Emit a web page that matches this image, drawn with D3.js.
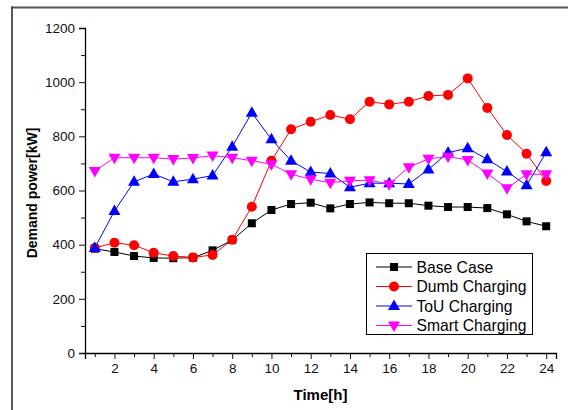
<!DOCTYPE html>
<html>
<head>
<meta charset="utf-8">
<script src="https://cdn.jsdelivr.net/npm/d3@7"></script>
<style>
  html, body { margin: 0; padding: 0; background: #fff; }
  svg { display: block; font-family: Arial, "Liberation Sans", sans-serif; }
</style>
</head>
<body>
<svg id="chart" width="568" height="410"></svg>
<script>
// Hourly demand (kW) for each charging scenario
const hours = d3.range(1, 25);
const baseCase   = [385, 373, 358, 351, 350, 352, 379, 417, 479, 528, 550, 555, 534, 550, 556, 553, 553, 544, 539, 539, 535, 512, 486, 468];
const dumbCharge = [388, 407, 398, 370, 358, 353, 362, 418, 540, 710, 826, 854, 879, 863, 928, 918, 928, 949, 953, 1014, 905, 805, 736, 635];
const touCharge  = [388, 524, 632, 661, 632, 642, 655, 762, 887, 789, 710, 668, 663, 612, 627, 627, 624, 678, 740, 756, 715, 670, 619, 741];
const smartCharge= [672, 721, 721, 721, 716, 720, 729, 721, 710, 697, 660, 642, 629, 636, 638, 623, 686, 717, 725, 713, 663, 608, 660, 660];

const seriesNames = ["Base Case", "Dumb Charging", "ToU Charging", "Smart Charging"];
const xTicks = [2, 4, 6, 8, 10, 12, 14, 16, 18, 20, 22, 24];
const yTicks = [0, 200, 400, 600, 800, 1000, 1200];

const series = [
  { name: seriesNames[0], values: baseCase,    color: "#000000", symbol: "square" },
  { name: seriesNames[1], values: dumbCharge,  color: "#ff0000", symbol: "circle" },
  { name: seriesNames[2], values: touCharge,   color: "#0000ff", symbol: "up" },
  { name: seriesNames[3], values: smartCharge, color: "#ff00ff", symbol: "down" }
];

const svg = d3.select("#chart");

// Outer frame (top and left edges)
svg.append("line").attr("x1", 11.5).attr("x2", 568).attr("y1", 7.5).attr("y2", 7.5)
  .attr("stroke", "#555").attr("stroke-width", 2);
svg.append("line").attr("x1", 12).attr("x2", 12).attr("y1", 6.5).attr("y2", 410)
  .attr("stroke", "#222").attr("stroke-width", 1.5);

const x = d3.scaleLinear().domain([0.5, 24.5]).range([85, 556]);
const y = d3.scaleLinear().domain([0, 1200]).range([353, 28]);

// Axes
const xAxis = svg.append("g").attr("transform", `translate(0,${y(0)})`);
xAxis.call(d3.axisBottom(x).tickValues(hours.filter(h => h % 2 === 1)).tickSize(4).tickFormat(""));
xAxis.call(g => g.select(".domain").remove());
const xMajor = svg.append("g").attr("transform", `translate(0,${y(0)})`)
  .call(d3.axisBottom(x).tickValues(xTicks).tickSize(6).tickPadding(4).tickFormat(d3.format("d")));
xMajor.select(".domain").attr("stroke-width", 1.3);

const yMinor = svg.append("g").attr("transform", `translate(${x(0.5)},0)`)
  .call(d3.axisLeft(y).tickValues(d3.range(100, 1200, 200)).tickSize(4).tickFormat(""));
yMinor.select(".domain").remove();
const yMajor = svg.append("g").attr("transform", `translate(${x(0.5)},0)`)
  .call(d3.axisLeft(y).tickValues(yTicks).tickSize(6).tickPadding(4).tickFormat(d3.format("d")));
yMajor.select(".domain").attr("stroke-width", 1.3);

svg.selectAll(".tick text").attr("font-size", 13.5).attr("fill", "#111")
  .attr("font-family", "Arial, 'Liberation Sans', sans-serif");
svg.selectAll(".tick line").attr("stroke", "#111");

// Axis titles
svg.append("text").attr("x", 320.5).attr("y", 400).attr("text-anchor", "middle")
  .attr("font-size", 15).attr("font-weight", "bold").text("Time[h]");
svg.append("text").attr("transform", "translate(37,193) rotate(-90)").attr("text-anchor", "middle")
  .attr("font-size", 14).attr("font-weight", "bold").text("Demand power[kW]");

// Marker drawing
function drawSymbol(sel, symbol, color) {
  if (symbol === "square") {
    sel.append("rect").attr("x", -4).attr("y", -4).attr("width", 8).attr("height", 8).attr("fill", color);
  } else if (symbol === "circle") {
    sel.append("circle").attr("r", 5).attr("fill", color);
  } else if (symbol === "up") {
    sel.append("path").attr("d", "M0,-6.5L6,4L-6,4Z").attr("fill", color);
  } else {
    sel.append("path").attr("d", "M0,6.5L6,-4L-6,-4Z").attr("fill", color);
  }
}

const line = d3.line().x((d, i) => x(hours[i])).y(d => y(d));

series.forEach(s => {
  svg.append("path").datum(s.values).attr("d", line)
    .attr("fill", "none").attr("stroke", s.color).attr("stroke-width", 1);
});
series.forEach(s => {
  svg.append("g").selectAll("g").data(s.values).join("g")
    .attr("transform", (d, i) => `translate(${x(hours[i])},${y(d)})`)
    .each(function () { drawSymbol(d3.select(this), s.symbol, s.color); });
});

// Legend
const legend = svg.append("g");
legend.append("rect").attr("x", 366.5).attr("y", 253.5).attr("width", 166).attr("height", 81)
  .attr("fill", "#fff").attr("stroke", "#000").attr("stroke-width", 1);
series.forEach((s, i) => {
  const cy = 267 + i * 19.5;
  legend.append("line").attr("x1", 376).attr("x2", 412).attr("y1", cy).attr("y2", cy)
    .attr("stroke", s.color).attr("stroke-width", 1);
  const m = legend.append("g").attr("transform", `translate(394,${cy})`);
  drawSymbol(m, s.symbol, s.color);
  legend.append("text").attr("x", 416.5).attr("y", cy + 5.5).attr("font-size", 15.7)
    .attr("fill", "#000").text(s.name);
});
</script>
</body>
</html>
